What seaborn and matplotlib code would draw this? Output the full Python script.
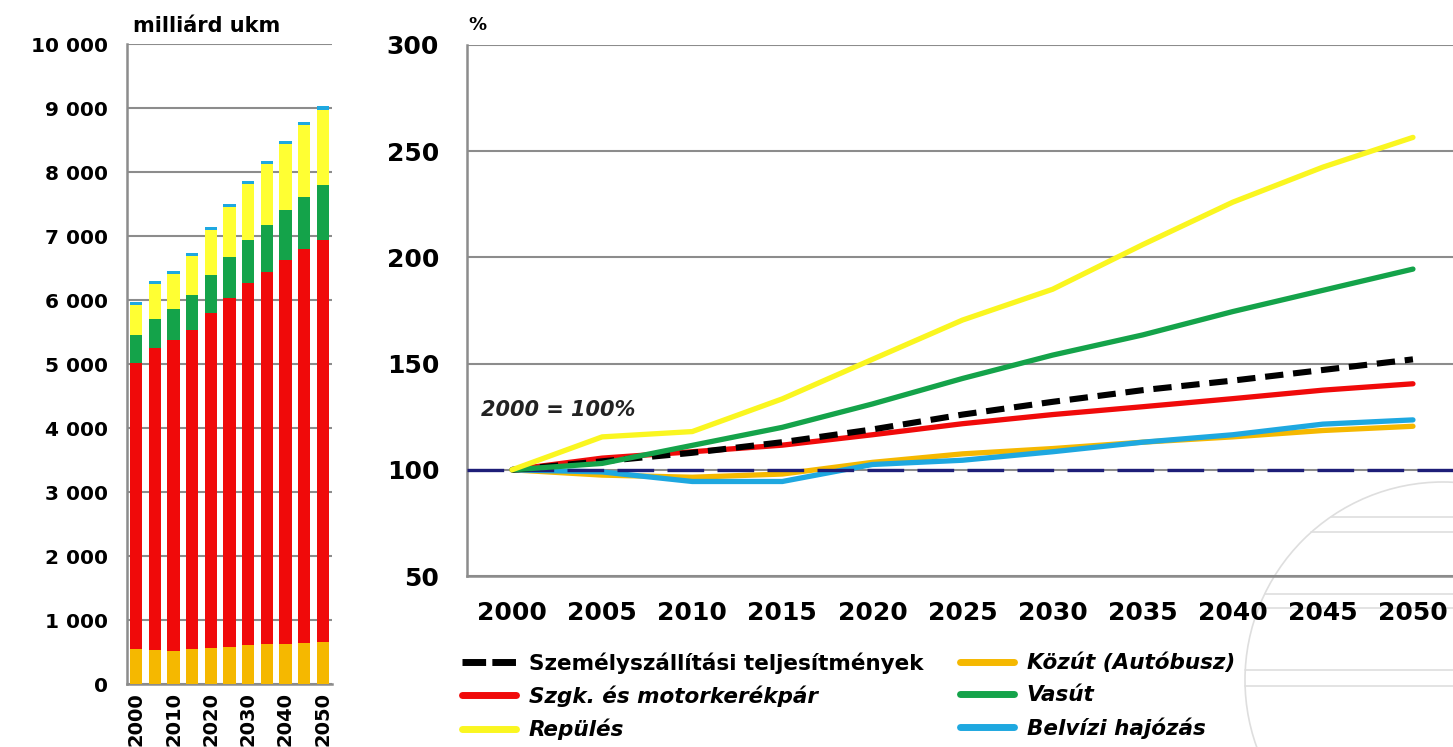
import numpy as np
import pandas as pd
import seaborn as sns
import matplotlib.pyplot as plt
from matplotlib.lines import Line2D
from matplotlib.patches import Ellipse

# ---- data ----
years = [2000, 2005, 2010, 2015, 2020, 2025, 2030, 2035, 2040, 2045, 2050]

# left panel: passenger transport performance, billion passenger-km
kozut_bus = [550, 530, 520, 540, 565, 585, 605, 620, 630, 645, 660]
szgk = [4470, 4720, 4850, 4995, 5230, 5445, 5660, 5820, 5990, 6150, 6280]
vasut = [440, 455, 495, 540, 590, 640, 678, 728, 780, 820, 855]
repules = [465, 550, 545, 620, 705, 780, 870, 950, 1035, 1115, 1175]
belvizi = [45, 44, 42, 42, 46, 47, 49, 51, 52, 55, 55]

# right panel: index, 2000 = 100%
szemely_idx = [100, 104, 108, 113, 119, 126, 132, 137.5, 142, 147, 152]
szgk_idx = [100, 105.5, 108.5, 111.6, 116.5, 121.7, 126, 129.7, 133.5, 137.5, 140.5]
repules_idx = [100, 115.5, 118, 133.4, 152, 170.5, 185, 206, 226, 242.5, 256.5]
vasut_idx = [100, 103, 111.5, 120, 131, 143, 154, 163.5, 174.5, 184.5, 194.5]
kozut_idx = [100, 97.5, 96.5, 98, 103.5, 107.5, 110, 113, 115.5, 118.5, 120.5]
belvizi_idx = [100, 99, 94.5, 94.5, 102.5, 104.5, 108.5, 113, 116.5, 121.5, 123.5]

labels = ['Személyszállítási teljesítmények', 'Szgk. és motorkerékpár', 'Repülés',
          'Közút (Autóbusz)', 'Vasút', 'Belvízi hajózás']

c_orange = '#F5B800'
c_red = '#F00A0A'
c_green = '#14A34A'
c_yellow = '#FAF620'
c_blue = '#1EA8E0'
c_navy = '#1E1E78'
c_grid = '#8c8c8c'

sns.set_style('white')
plt.rcParams['font.family'] = ['DejaVu Sans']
plt.rcParams['text.color'] = 'black'
plt.rcParams['xtick.labelcolor'] = 'black'
plt.rcParams['ytick.labelcolor'] = 'black'

W, H = 1453, 747
fig = plt.figure(figsize=(W / 100, H / 100), dpi=100)
fig.patch.set_facecolor('white')

# faint watermark in the lower right corner
cx, cy, r = 1443, 680, 198
fig.add_artist(Ellipse((cx / W, 1 - cy / H), 2 * r / W, 2 * r / H, fill=False,
                       ec='#dedede', lw=1.2, transform=fig.transFigure, zorder=0))
for yy in [517, 532, 594, 608, 670, 686]:
    x0 = cx - np.sqrt(r ** 2 - (yy - cy) ** 2)
    fig.add_artist(Line2D([x0 / W, 1], [1 - yy / H, 1 - yy / H], color='#dedede',
                          lw=1.2, transform=fig.transFigure, zorder=0))

# ---- left: stacked bars ----
ax1 = fig.add_axes([127 / W, 63 / H, 205 / W, 640 / H])
ax1.set_facecolor('none')
year_lbl = [str(y) for y in years]
layers = [kozut_bus, szgk, vasut, repules, belvizi]
layer_colors = [c_orange, c_red, c_green, '#FFFF33', c_blue]
cum = np.cumsum(np.array(layers), axis=0)
for i in range(len(layers) - 1, -1, -1):
    sns.barplot(x=year_lbl, y=cum[i], color=layer_colors[i], saturation=1,
                width=0.66, errorbar=None, ax=ax1, zorder=3, linewidth=0,
                edgecolor='none')

ax1.set_ylim(0, 10000)
ax1.set_yticks(range(0, 10001, 1000))
ax1.set_yticklabels([f'{v:,}'.replace(',', ' ') for v in range(0, 10001, 1000)])
ax1.set_xlim(-0.5, 10.5)
ax1.set_xticks(np.arange(-0.5, 11, 1))
ax1.set_xticklabels([])
ax1.set_xticks(range(0, 11, 2), minor=True)
ax1.set_xticklabels(year_lbl[::2], minor=True, rotation=90, fontsize=14, fontweight='bold')
ax1.tick_params(axis='x', which='major', direction='out', length=6, width=1.5, color=c_grid)
ax1.tick_params(axis='x', which='minor', length=0, pad=6)
ax1.tick_params(axis='y', direction='out', length=10, width=1.5, color=c_grid, pad=4,
                labelsize=14.5)
for t in ax1.get_yticklabels():
    t.set_fontweight('bold')
ax1.yaxis.grid(True, color=c_grid, lw=1.5, zorder=0)
ax1.set_axisbelow(True)
sns.despine(ax=ax1)
for s in ['left', 'bottom']:
    ax1.spines[s].set_color(c_grid)
    ax1.spines[s].set_linewidth(1.8)
ax1.set_xlabel('')
ax1.set_ylabel('')
fig.text(133 / W, 1 - 32 / H, 'milliárd ukm', fontsize=15, fontweight='bold', ha='left',
         va='baseline')

# ---- right: index lines ----
ax2 = fig.add_axes([467 / W, 171 / H, 991 / W, 531 / H])
ax2.set_facecolor('none')
lw = 3.8
sns.lineplot(x=years, y=kozut_idx, color=c_orange, lw=lw, ax=ax2, zorder=3,
             solid_capstyle='round')
sns.lineplot(x=years, y=belvizi_idx, color=c_blue, lw=lw, ax=ax2, zorder=3,
             solid_capstyle='round')
ax2.axhline(100, color=c_navy, lw=2.4, linestyle=(0, (11, 4)), zorder=4)
sns.lineplot(x=years, y=szgk_idx, color=c_red, lw=lw, ax=ax2, zorder=5,
             solid_capstyle='round')
sns.lineplot(x=years, y=szemely_idx, color='black', lw=4.4, ax=ax2, zorder=6,
             linestyle=(0, (3.0, 1.6)))
sns.lineplot(x=years, y=vasut_idx, color=c_green, lw=lw, ax=ax2, zorder=6,
             solid_capstyle='round')
sns.lineplot(x=years, y=repules_idx, color=c_yellow, lw=lw, ax=ax2, zorder=7,
             solid_capstyle='round')

ax2.set_ylim(50, 300)
ax2.set_yticks(range(50, 301, 50))
ax2.set_xlim(1997.5, 2052.5)
ax2.set_xticks(np.arange(1997.5, 2053, 5))
ax2.set_xticklabels([])
ax2.set_xticks(years, minor=True)
ax2.set_xticklabels(year_lbl, minor=True, fontsize=18, fontweight='bold')
ax2.tick_params(axis='x', which='major', direction='out', length=8, width=1.5, color=c_grid)
ax2.tick_params(axis='x', which='minor', length=0, pad=18)
ax2.tick_params(axis='y', direction='out', length=12, width=1.5, color=c_grid, pad=8,
                labelsize=18)
for t in ax2.get_yticklabels():
    t.set_fontweight('bold')
ax2.yaxis.grid(True, color=c_grid, lw=1.5, zorder=0)
ax2.set_axisbelow(True)
sns.despine(ax=ax2)
for s in ['left', 'bottom']:
    ax2.spines[s].set_color(c_grid)
    ax2.spines[s].set_linewidth(1.8)
ax2.set_xlabel('')
ax2.set_ylabel('')
ax2.text(1998.3, 128, '2000 = 100%', fontsize=15, fontweight='bold', style='italic',
         ha='left', va='center', color='#222222')
fig.text(468 / W, 1 - 30 / H, '%', fontsize=13, fontweight='bold', ha='left', va='baseline')

# ---- legend ----
handles = [
    Line2D([], [], color='black', lw=5, linestyle=(0, (3.4, 0.9))),
    Line2D([], [], color=c_red, lw=5, solid_capstyle='round'),
    Line2D([], [], color=c_yellow, lw=5, solid_capstyle='round'),
    Line2D([], [], color=c_orange, lw=5, solid_capstyle='round'),
    Line2D([], [], color=c_green, lw=5, solid_capstyle='round'),
    Line2D([], [], color=c_blue, lw=5, solid_capstyle='round'),
]
leg = fig.legend(handles, labels, loc='upper left', bbox_to_anchor=(462 / W, 1 - 652 / H),
                 ncol=2, frameon=False, fontsize=15.5, handlelength=2.5, handletextpad=0.6,
                 columnspacing=1.7, labelspacing=0.55, borderaxespad=0, borderpad=0)
for i, t in enumerate(leg.get_texts()):
    t.set_fontweight('bold')
    if i > 0:
        t.set_fontstyle('italic')

fig.savefig('out.png', dpi=100)
